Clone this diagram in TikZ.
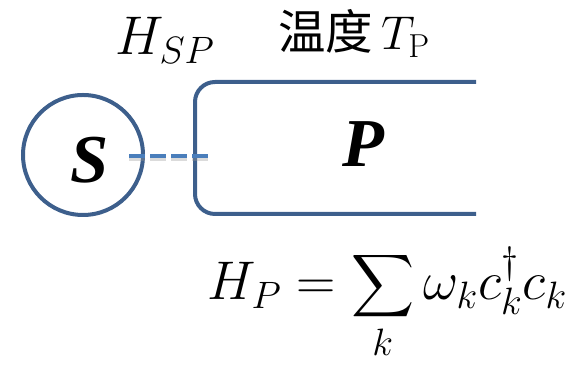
\RequirePackage{fix-cm}
\documentclass[tikz,border=0pt]{standalone}
\usepackage{amsmath}
\usepackage{fontspec}
\newfontfamily\boldserif{Liberation Serif}
\newfontfamily\cjk{Noto Sans CJK SC}
\definecolor{edgeblue}{HTML}{3D5F8C}
\definecolor{linkblue}{HTML}{4A7EBB}

\begin{document}
\begin{tikzpicture}[
  wall/.style={draw=edgeblue,line width=0.08cm},
  link/.style={linkblue,line width=0.09cm,dash pattern=on 0.32cm off 0.1cm},
  bigtext/.style={font=\fontsize{31}{36}\selectfont,inner sep=0pt},
  letter/.style={font=\fontsize{39}{44}\selectfont\boldserif\bfseries\itshape,inner sep=0pt,anchor=base}]
\useasboundingbox (0,0) rectangle (11.68,7.34);
\node[wall,circle,minimum size=2.4cm,inner sep=0pt,outer sep=0pt] (sys) at (1.66,4.24) {};
\node[letter] (syslabel) at (1.8,3.68) {S};
\node[minimum width=5.62cm,minimum height=2.64cm,inner sep=0pt,outer sep=0pt] (bath) at (6.71,4.38) {};
\draw[wall,rounded corners=0.4cm] (bath.north east) -- (bath.north west) -- (bath.south west) -- (bath.south east);
\node[letter] (bathlabel) at (7.26,4.0) {P};
\coordinate (linkstart) at ([xshift=-0.28cm,yshift=-0.02cm]sys.east);
\coordinate (linkend) at ([xshift=0.26cm]bath.west);
\draw[link,black!40,opacity=0.35,transform canvas={yshift=-0.06cm}] (linkstart) -- (linkstart -| linkend);
\draw[link] (linkstart) -- (linkstart -| linkend);
\node[bigtext,anchor=base west] (hsp) at (2.3,6.24) {$H_{SP}$};
\node[bigtext,font=\fontsize{27}{32}\selectfont,anchor=base west] (temp) at (5.56,6.34) {{\cjk 温度}\,$T_{\mathrm{P}}$};
\node[bigtext,anchor=base west] (hp) at (4.14,1.34) {$\displaystyle H_P=\sum_k\omega_k c_k^\dagger c_k$};
\end{tikzpicture}
\end{document}
